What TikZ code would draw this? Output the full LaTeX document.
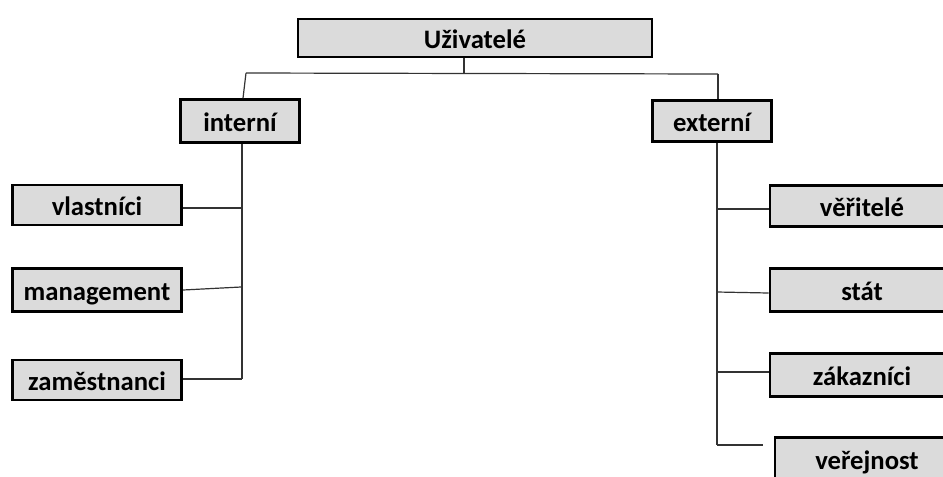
\documentclass[tikz,border=0pt]{standalone}
\usepackage{fontspec}
\setmainfont{Carlito}
\usetikzlibrary{shadows}
\begin{document}
\begin{tikzpicture}[x=0.75pt,y=-0.75pt,
  box/.style={draw=black, line width=2.2pt, fill=gray!28, inner sep=0pt,
    font=\fontsize{20}{22}\selectfont\bfseries, text height=16pt, text depth=0pt,
    drop shadow={shadow xshift=0.9pt, shadow yshift=-0.9pt, fill=black, opacity=1}},
  link/.style={draw=black!80, line width=0.9pt}]
\useasboundingbox (0,0) rectangle (943,476);
\clip (0,0) rectangle (943,476);

% top level
\node[box, minimum width=265.5pt, minimum height=28.5pt] (uziv) at (475,38) {Uživatelé};

% second level
\node[box, minimum width=89pt, minimum height=32pt] (int) at (240,121) {interní};
\node[box, minimum width=89pt, minimum height=31pt] (ext) at (712,121) {externí};

% internal users
\node[box, minimum width=127pt, minimum height=30pt] (vl) at (97,205) {vlastníci};
\node[box, minimum width=127pt, minimum height=32pt] (mg) at (97,290) {management};
\node[box, minimum width=127pt, minimum height=30pt] (zm) at (97,380) {zaměstnanci};

% external users
\node[box, minimum width=138pt, minimum height=31pt] (ve) at (862,206) {věřitelé};
\node[box, minimum width=138pt, minimum height=32pt] (st) at (862,290) {stát};
\node[box, minimum width=138pt, minimum height=32pt] (za) at (862,375) {zákazníci};
\node[box, minimum width=138pt, minimum height=32pt] (vr) at (867,459) {veřejnost};

% branching points
\coordinate (top) at (464,73);
\coordinate (tl) at (246,73);
\coordinate (tr) at (718,74);
\coordinate (lb) at (242,379);
\coordinate (rb) at (717,445);
\coordinate (ve0) at (717,209);
\coordinate (st0) at (717,292);
\coordinate (za0) at (717,372);
\coordinate (vr1) at (763,445);

% connectors from the top box
\draw[link] (uziv.south -| top) -- (top);
\draw[link] (tl) -- (tr);
\draw[link] (tl) -- (int.north -| 243,0);
\draw[link] (tr) -- (ext.north -| tr);

% internal branch
\draw[link] (int.south -| lb) -- (lb);
\draw[link] (vl.east |- 0,208) -- (lb |- 0,208);
\draw[link] (mg.east) -- (241,287);
\draw[link] (zm.east |- lb) -- (lb);

% external branch
\draw[link] (ext.south -| rb) -- (rb);
\draw[link] (ve0) -- (ve.west |- ve0);
\draw[link] (st0) -- (st.west |- 0,293);
\draw[link] (za0) -- (za.west |- za0);
\draw[link] (rb) -- (vr1);
\end{tikzpicture}
\end{document}
